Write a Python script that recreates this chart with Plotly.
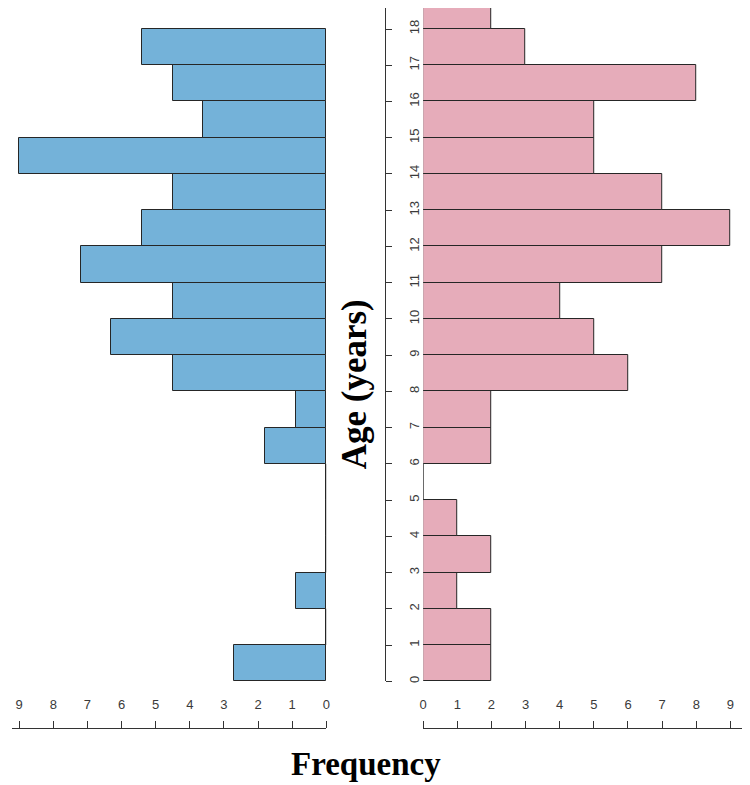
import plotly.graph_objects as go

# age bins (lower edge, years); each bin is one year wide
blue_bins = list(range(0, 18))
pink_bins = list(range(0, 19))

# frequencies (left panel, right panel)
blue_freq = [2.7, 0, 0.9, 0, 0, 0, 1.8, 0.9, 4.5, 6.3, 4.5, 7.2, 5.4, 4.5, 9.0, 3.6, 4.5, 5.4]
pink_freq = [2, 2, 1, 2, 1, 0, 2, 2, 6, 5, 4, 7, 9, 7, 5, 5, 8, 3, 2]

freq_ticks = list(range(0, 10))
age_ticks = list(range(0, 19))

BLUE = "#74B2D9"
PINK = "#E6ACBA"
EDGE = "#262626"
AXIS = "#333333"

# the page body adds an 8px margin, so the figure is drawn 8px smaller
OFF = 8
W, H = 750 - OFF, 785 - OFF
UNIT_X = 34.5   # px per frequency unit
UNIT_Y = 36.33  # px per year


def px(x):
    return (x - OFF) / W


def py(y):
    return (H - (y - OFF)) / H


def zero_segments(bins, freq):
    # R draws empty bins as a zero-width rectangle, i.e. a vertical line at 0
    xs, ys = [], []
    for b, f in zip(bins, freq):
        if f == 0:
            xs += [0, 0, None]
            ys += [b, b + 1, None]
    return xs, ys


fig = go.Figure()
fig.add_trace(go.Bar(
    x=blue_freq, y=[b + 0.5 for b in blue_bins], width=1, orientation="h",
    marker=dict(color=BLUE, line=dict(color=EDGE, width=1)),
    xaxis="x", yaxis="y", showlegend=False, hoverinfo="skip",
))
fig.add_trace(go.Bar(
    x=pink_freq, y=[b + 0.5 for b in pink_bins], width=1, orientation="h",
    marker=dict(color=PINK, line=dict(color=EDGE, width=1)),
    xaxis="x2", yaxis="y", showlegend=False, hoverinfo="skip",
))
zx, zy = zero_segments(blue_bins, blue_freq)
fig.add_trace(go.Scatter(x=zx, y=zy, mode="lines", line=dict(color=EDGE, width=1),
                         xaxis="x", yaxis="y", showlegend=False, hoverinfo="skip"))
zx, zy = zero_segments(pink_bins, pink_freq)
fig.add_trace(go.Scatter(x=zx, y=zy, mode="lines", line=dict(color=EDGE, width=1),
                         xaxis="x2", yaxis="y", showlegend=False, hoverinfo="skip"))

tick_font = dict(family="Liberation Sans, Arial", size=13, color="#3a3a3a")

axis_x = dict(
    anchor="free", position=py(730), side="top",
    tickvals=freq_ticks, ticks="outside", ticklen=7, tickwidth=1, tickcolor=AXIS,
    showline=True, linecolor=AXIS, linewidth=1, showgrid=False, zeroline=False,
    tickfont=tick_font, ticklabelstandoff=7,
)

fig.update_layout(
    width=W, height=H,
    margin=dict(l=0, r=0, t=0, b=0),
    paper_bgcolor="white", plot_bgcolor="white",
    bargap=0,
    xaxis=dict(axis_x, domain=[0, px(325.7)], range=[(325.7 - OFF) / UNIT_X, 0]),
    xaxis2=dict(axis_x, domain=[px(423.7), px(746.7)], range=[0, (746.7 - 423.7) / UNIT_X]),
    yaxis=dict(
        domain=[py(683), 1], range=[0, (683 - OFF) / UNIT_Y],
        anchor="free", position=px(385), side="right",
        tickvals=age_ticks, ticks="outside", ticklen=6, tickwidth=1, tickcolor=AXIS,
        tickangle=-90, showline=True, linecolor=AXIS, linewidth=1,
        showgrid=False, zeroline=False,
        tickfont=tick_font, ticklabelstandoff=11,
    ),
    annotations=[
        dict(text="<b>Frequency</b>", x=px(366), y=py(766), xref="paper", yref="paper",
             xanchor="center", yanchor="middle", showarrow=False,
             font=dict(family="Liberation Serif, Times New Roman", size=33, color="black")),
        dict(text="<b>Age (years)</b>", x=px(354), y=py(385), xref="paper", yref="paper",
             xanchor="center", yanchor="middle", showarrow=False, textangle=-90,
             font=dict(family="Liberation Serif, Times New Roman", size=35, color="black")),
    ],
)

fig.write_html("out.html")
